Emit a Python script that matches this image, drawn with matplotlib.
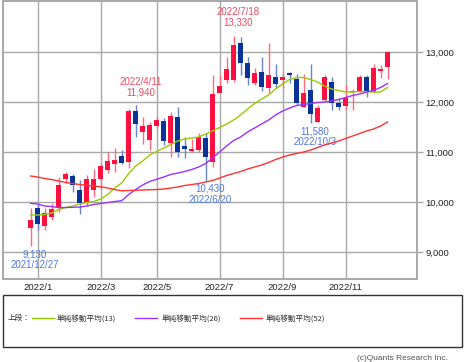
import matplotlib
matplotlib.use("Agg")
import matplotlib.pyplot as plt
import numpy as np
import pandas as pd
from matplotlib.lines import Line2D
from matplotlib.patches import Rectangle
from matplotlib.ticker import FuncFormatter

# weekly candles, 2021/12/27 .. 2022/12/19
weeks = pd.date_range("2021-12-27", periods=52, freq="7D")

opens = [9474, 9874, 9520, 9706, 9874, 10454, 10520, 10240, 9974, 10240,
         10454, 10640, 10760, 10920, 10806, 11820, 11406, 11240, 11520, 11620,
         11174, 11706, 11120, 11026, 11040, 11286, 10806, 12186, 12440, 12440,
         13174, 12786, 12386, 12606, 12274, 12494, 12440, 12574, 12454, 11906,
         12240, 11606, 12040, 12406, 11990, 11920, 12200, 12226, 12506, 12206,
         12614, 12706]
closes = [9640, 9560, 9774, 9854, 10340, 10560, 10340, 9986, 10454, 10454,
          10720, 10826, 10840, 10786, 11826, 11560, 11520, 11540, 11640, 11226,
          11720, 11006, 11066, 11066, 11306, 10906, 12160, 12320, 12660, 13140,
          12774, 12474, 12574, 12294, 12540, 12360, 12494, 12546, 11974, 12186,
          11760, 11874, 12506, 11980, 11910, 12074, 12226, 12506, 12206, 12674,
          12654, 13006]
highs = [9874, 9974, 9874, 9974, 10494, 10606, 10566, 10440, 10540, 10654,
         10774, 11000, 11074, 11040, 11854, 11940, 11694, 11606, 11706, 11674,
         11800, 11906, 11300, 11254, 11386, 11386, 12540, 12540, 12906, 13330,
         13300, 12906, 12674, 12906, 13174, 12760, 12574, 12594, 12560, 12560,
         12760, 11940, 12540, 12500, 12074, 12340, 12254, 12540, 12540, 12760,
         12740, 13006]
lows = [9130, 9440, 9440, 9640, 9806, 10386, 10206, 9760, 9920, 10094,
        10254, 10574, 10606, 10760, 10674, 11294, 11160, 11040, 11480, 11140,
        10900, 10894, 10874, 11006, 11006, 10430, 10706, 12206, 12374, 12406,
        12540, 12340, 12340, 12226, 12186, 12274, 12274, 12374, 11940, 11906,
        11580, 11600, 12026, 11840, 11840, 11854, 11840, 12206, 12106, 12174,
        12474, 12454]

ma13 = [9740, 9740, 9750, 9780, 9850, 9890, 9920, 9960, 9990, 10010,
        10060, 10150, 10280, 10380, 10570, 10720, 10820, 10940, 11010, 11080,
        11150, 11220, 11260, 11280, 11300, 11360, 11420, 11490, 11560, 11640,
        11740, 11860, 11970, 12060, 12140, 12260, 12360, 12450, 12490, 12490,
        12450, 12400, 12320, 12260, 12230, 12200, 12200, 12210, 12210, 12200,
        12200, 12290]
ma26 = [9974, 9960, 9920, 9910, 9890, 9890, 9895, 9900, 9920, 9950,
        9970, 9990, 10010, 10026, 10150, 10250, 10340, 10410, 10454, 10500,
        10550, 10580, 10610, 10650, 10700, 10770, 10880, 11000, 11120, 11230,
        11300, 11400, 11480, 11560, 11640, 11740, 11820, 11880, 11930, 11950,
        11970, 11990, 12000, 12020, 12050, 12090, 12130, 12160, 12200, 12230,
        12290, 12370]
ma52 = [10520, 10500, 10470, 10450, 10420, 10390, 10370, 10350, 10335, 10320,
        10305, 10280, 10250, 10225, 10230, 10235, 10240, 10245, 10250, 10260,
        10280, 10300, 10330, 10350, 10370, 10400, 10430, 10480, 10530, 10570,
        10610, 10660, 10700, 10740, 10790, 10850, 10900, 10940, 10970, 11000,
        11040, 11090, 11140, 11180, 11220, 11270, 11320, 11370, 11420, 11460,
        11520, 11600]

yticks = [9000, 10000, 11000, 12000, 13000]
month_labels = ["2022/1", "2022/3", "2022/5", "2022/7", "2022/9", "2022/11"]

plt.rcParams["font.family"] = ["Liberation Sans", "DejaVu Sans"]

up_body, up_wick = "#ff1040", "#ff6a80"
dn_body, dn_wick = "#0a3399", "#6a84d0"
grid_c = "#a8a8a8"

fig = plt.figure(figsize=(4.68, 3.62), dpi=100)
ax = fig.add_axes([0.0058, 0.2285, 0.885, 0.7687])

x = np.arange(len(weeks))
o = np.array(opens); c = np.array(closes)
h = np.array(highs); l = np.array(lows)
up = c >= o

ax.vlines(x[up], l[up], h[up], color=up_wick, lw=1, zorder=3)
ax.vlines(x[~up], l[~up], h[~up], color=dn_wick, lw=1, zorder=3)
body_h = np.maximum(np.abs(c - o), 25)
body_b = np.minimum(o, c)
ax.bar(x[up], body_h[up], bottom=body_b[up], width=0.72, color=up_body, zorder=4)
ax.bar(x[~up], body_h[~up], bottom=body_b[~up], width=0.72, color=dn_body, zorder=4)

ax.plot(x, ma13, color="#99cc00", lw=1, zorder=5)
ax.plot(x, ma26, color="#9933ff", lw=1, zorder=5)
ax.plot(x, ma52, color="#ff3333", lw=1, zorder=5)

# month ticks at the first week of each odd month
tick_pos = []
for lab in month_labels:
    yy, mm = lab.split("/")
    idx = np.where((weeks.year == int(yy)) & (weeks.month == int(mm)))[0][0]
    tick_pos.append(idx)

ax.set_xlim(-4.0, 55.2)
ax.set_ylim(8455, 14020)
ax.set_xticks(tick_pos)
ax.set_xticklabels(month_labels, fontsize=6.8, color="#222222")
ax.set_yticks(yticks)
ax.yaxis.set_major_formatter(FuncFormatter(lambda v, p: f"{int(v):,}"))
ax.yaxis.tick_right()
ax.tick_params(axis="y", length=4, width=1, color=grid_c, labelsize=6.8,
               labelcolor="#222222", pad=2)
ax.tick_params(axis="x", length=0, pad=3)
ax.grid(True, color=grid_c, lw=1)
ax.set_axisbelow(True)
for s in ax.spines.values():
    s.set_color(grid_c)
    s.set_linewidth(1.4)

# high / low annotations
red_t, blue_t = "#f04a60", "#5078e0"
def note_high(i, txt):
    ax.annotate(txt, (x[i], highs[i]), xytext=(3.5, 5.5), textcoords="offset points",
                ha="center", va="bottom", fontsize=7, color=red_t, linespacing=1.1)

def note_low(i, txt):
    ax.annotate(txt, (x[i], lows[i]), xytext=(3, -2.5), textcoords="offset points",
                ha="center", va="top", fontsize=7, color=blue_t, linespacing=1.1)

note_high(29, "2022/7/18\n13,330")
note_high(15, "2022/4/11\n11,940")
note_low(25, "10,430\n2022/6/20")
note_low(40, "11,580\n2022/10/3")
note_low(0, "9,130\n2021/12/27")

# legend box below the chart
W, H = 468.0, 362.0
fig.patches.append(Rectangle((2.7 / W, 1 - 346.7 / H), 459 / W, 51.7 / H,
                             transform=fig.transFigure, fill=False,
                             edgecolor="#333333", lw=1))
ly = 1 - 318.3 / H
cjk = ["Noto Sans CJK JP", "DejaVu Sans"]
fig.text(7.5 / W, ly, "上段：", fontsize=5.5, family=cjk, va="center", color="#333333")
items = [("#99cc00", 31.5, 56.5, "単純移動平均(13)"),
         ("#9933ff", 135, 161.5, "単純移動平均(26)"),
         ("#ff3333", 240, 266, "単純移動平均(52)")]
for col, x0, tx, lab in items:
    fig.lines.append(Line2D([x0 / W, (x0 + 22) / W], [ly, ly], transform=fig.transFigure,
                            color=col, lw=1))
    fig.text(tx / W, ly, lab, fontsize=5.5, family=cjk, va="center", color="#333333")

fig.text(448 / W, 1 - 358 / H, "(c)Quants Research Inc.", fontsize=6,
         ha="right", va="center", color="#555555")

fig.savefig("out.png", dpi=100)
